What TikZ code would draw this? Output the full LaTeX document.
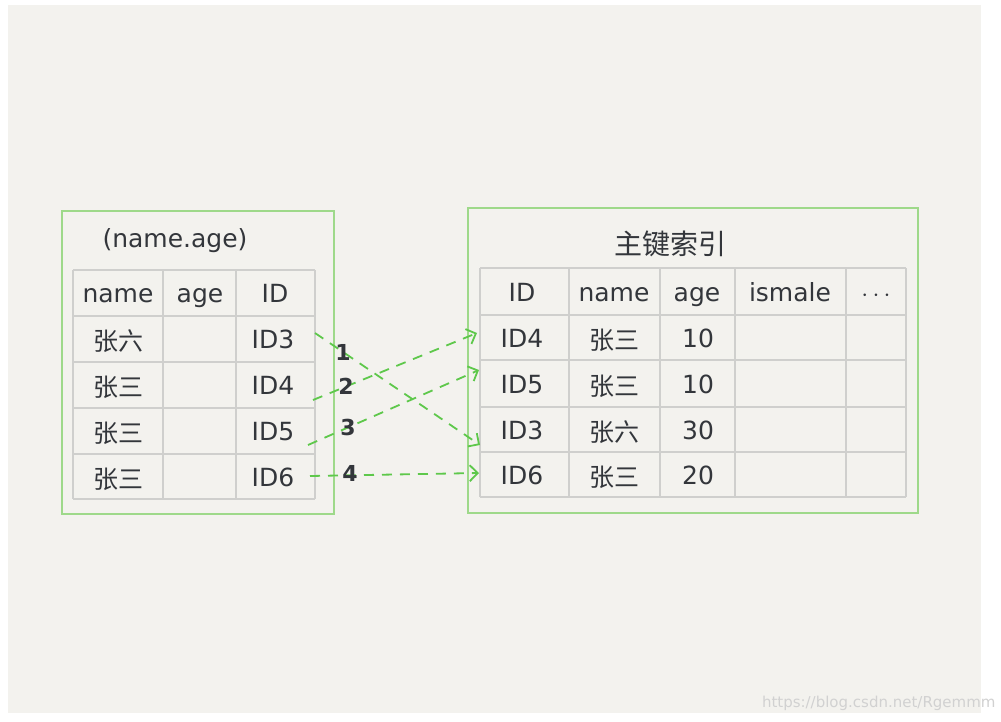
\documentclass[tikz,border=0pt]{standalone}
\usepackage{fontspec}
\setmainfont{DejaVu Sans}
\newfontfamily\cjk{Noto Sans CJK SC}
\definecolor{bg}{HTML}{F3F2EE}
\definecolor{grid}{HTML}{CFCFCD}
\definecolor{gbox}{HTML}{9ED98A}
\definecolor{garr}{HTML}{5EC84B}
\definecolor{txt}{HTML}{33363B}
\usetikzlibrary{arrows.meta}
\tikzset{cell/.style={font=\fontsize{25}{25}\selectfont, text=txt, anchor=center, text height=21pt, text depth=2pt, inner sep=0pt},
  zh/.style={font=\cjk\fontsize{25}{25}\selectfont, text=txt, anchor=center, text height=23pt, text depth=0pt, inner sep=0pt},
  arr/.style={draw=garr, line width=1.8pt, dash pattern=on 10pt off 8pt, -{Straight Barb[length=8pt,width=16pt]}},
  num/.style={font=\bfseries\fontsize{22}{22}\selectfont, text=txt}}
\begin{document}
\begin{tikzpicture}[x=1pt,y=-1pt]
\useasboundingbox (0,0) rectangle (1001,722);
\fill[white] (0,0) rectangle (1001,722);
\fill[bg] (8,5) rectangle (981,713);
\node[text=white!82!black, font=\fontsize{15}{15}\selectfont, anchor=east] (wm) at (999,703) {https://blog.csdn.net/Rgemmm};
% left
\draw[gbox, line width=1.2pt] (62,211) rectangle (334,514);
\node[cell] (lt) at (175,238) {(name.age)};
\foreach \x in {73,163,236,315} \draw[grid, line width=1.2pt] (\x,270) -- (\x,499);
\foreach \y in {270,316,362,408,454,499} \draw[grid, line width=1.2pt] (73,\y) -- (315,\y);
\node[cell] at (118,293) {name};
\node[cell] at (200,293) {age};
\node[cell] at (275,293) {ID};
\node[zh] at (118,339) {张六};
\node[zh] at (118,385) {张三};
\node[zh] at (118,431) {张三};
\node[zh] at (118,477) {张三};
\node[cell] (l3) at (273,339) {ID3};
\node[cell] (l4) at (273,385) {ID4};
\node[cell] (l5) at (273,431) {ID5};
\node[cell] (l6) at (273,477) {ID6};
% right
\draw[gbox, line width=1.2pt] (468,208) rectangle (918,513);
\node[zh, font=\cjk\fontsize{28}{28}\selectfont] (rt) at (670,243) {主键索引};
\foreach \x in {480,569,660,735,846,906} \draw[grid, line width=1.2pt] (\x,268) -- (\x,497);
\foreach \y in {268,315,360,407,452,497} \draw[grid, line width=1.2pt] (480,\y) -- (906,\y);
\node[cell] at (522,292) {ID};
\node[cell] at (614,292) {name};
\node[cell] at (697,292) {age};
\node[cell] at (790,292) {ismale};
\node[cell] at (876,292) {$\cdots$};
\node[cell] (r4) at (522,338) {ID4};
\node[cell] (r5) at (522,384) {ID5};
\node[cell] (r3) at (522,430) {ID3};
\node[cell] (r6) at (522,475) {ID6};
\node[zh] at (614,338) {张三};
\node[zh] at (614,384) {张三};
\node[zh] at (614,430) {张六};
\node[zh] at (614,475) {张三};
\node[cell] at (698,338) {10};
\node[cell] at (698,384) {10};
\node[cell] at (698,430) {30};
\node[cell] at (698,475) {20};
% arrows
\coordinate (a3s) at (315,333); \coordinate (a3e) at (480,445);
\coordinate (a4s) at (313,400); \coordinate (a4e) at (477,333);
\coordinate (a5s) at (308,445); \coordinate (a5e) at (479,370);
\coordinate (a6s) at (310,476); \coordinate (a6e) at (479,473);
\draw[arr] (a3s) -- (a3e);
\draw[arr] (a4s) -- (a4e);
\draw[arr] (a5s) -- (a5e);
\draw[arr] (a6s) -- (a6e);
\node[num] (n1) at (343,352) {1};
\node[num] (n2) at (346,386) {2};
\node[num] (n3) at (348,427) {3};
\node[num] (n4) at (350,473) {4};
\end{tikzpicture}
\end{document}
